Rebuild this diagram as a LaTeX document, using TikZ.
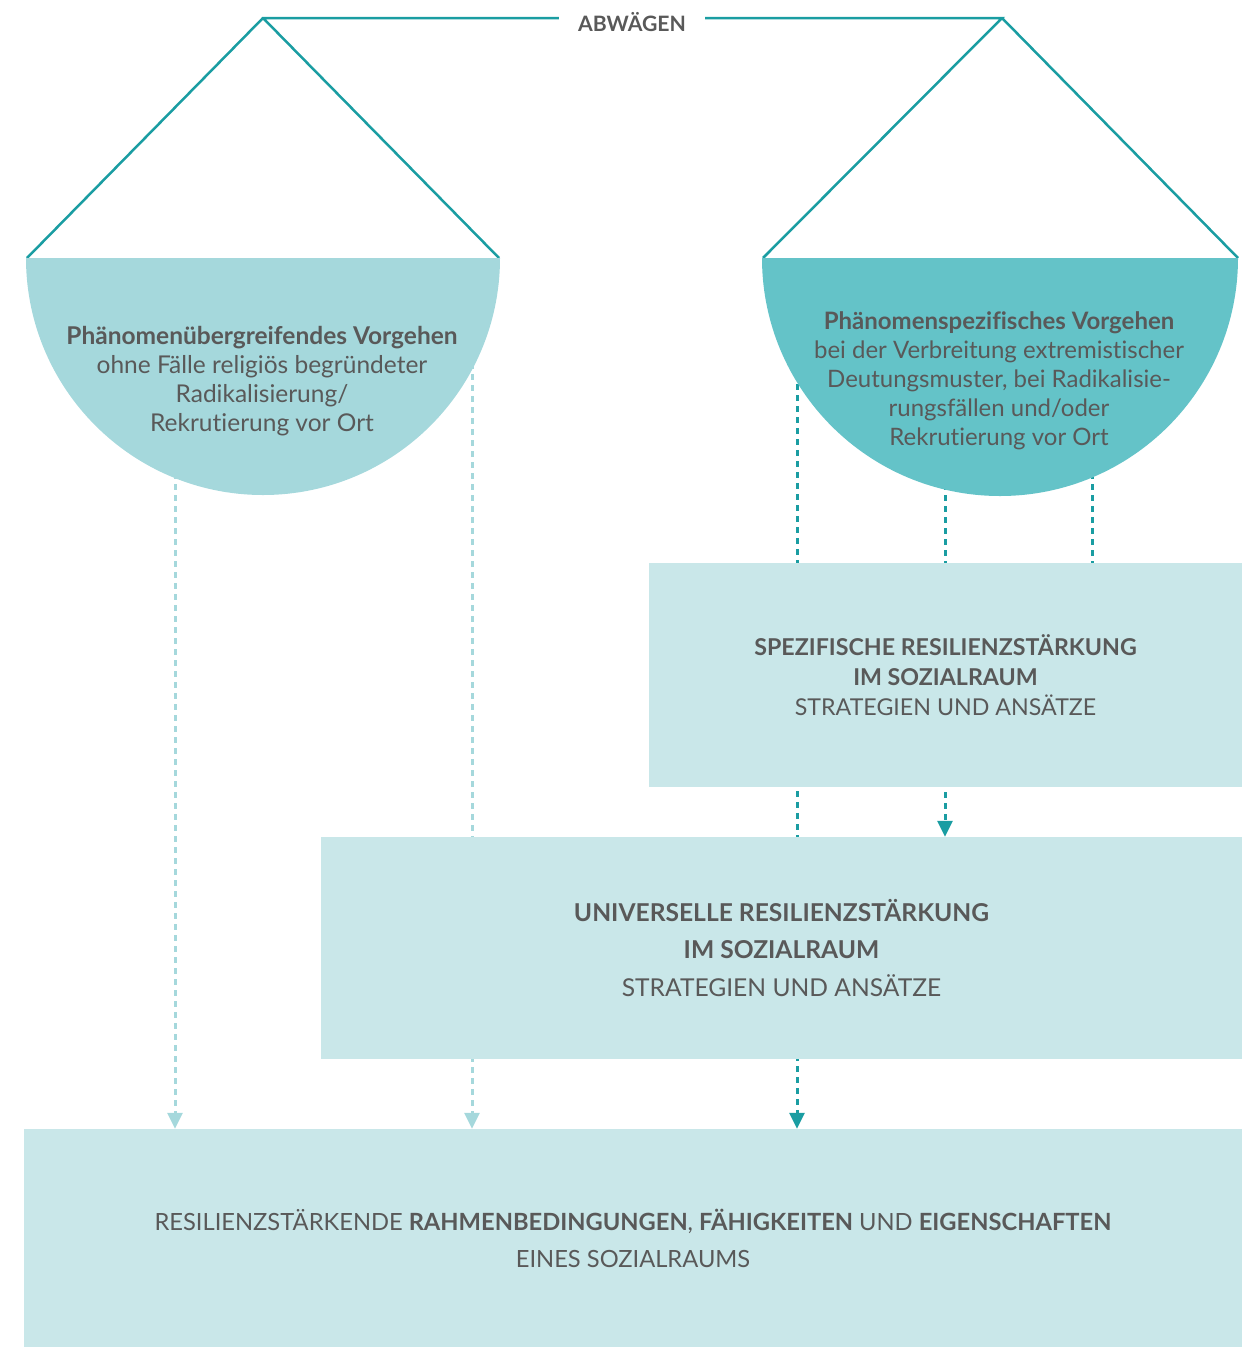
\documentclass[tikz,border=0pt]{standalone}
\usepackage{fontspec}
\setmainfont{Lato}[Ligatures=NoCommon]
\usetikzlibrary{arrows.meta,backgrounds,positioning}
\definecolor{waage}{HTML}{1A9DA2}
\definecolor{schaleA}{HTML}{A5D8DC}
\definecolor{schaleB}{HTML}{64C3C8}
\definecolor{feld}{HTML}{C9E7E9}
\definecolor{schrift}{HTML}{595959}

\begin{document}
\begin{tikzpicture}[x=1pt,y=1pt,
  feldbox/.style = {fill=feld, inner sep=0pt, align=center, text=schrift},
  schale/.style = {align=center, text=schrift, font=\fontsize{24.5}{29}\selectfont},
  hell/.style = {draw=schaleA, line width=3pt, dash pattern=on 6pt off 5pt},
  dunkel/.style = {draw=waage, line width=3pt, dash pattern=on 6pt off 5pt},
  spitze/.style = {-{Triangle[width=15pt,length=16pt]}}]

\useasboundingbox (0,0) rectangle (1252,-1347);

% waage
\node[font=\bfseries\fontsize{21.2}{26}\selectfont, text=schrift, inner sep=19pt] (abw) at (632,-22) {ABWÄGEN};
\coordinate (aufhA) at (263,-18);
\coordinate (aufhB) at (1002,-18);
\draw[waage, line width=2.5pt] (abw.west |- aufhA) -- (aufhA) -- (27,-258) (aufhA) -- (499,-258);
\draw[waage, line width=2.5pt] (abw.east |- aufhB) -- (aufhB) -- (763,-258) (aufhB) -- (1238,-258);

% schalen
\fill[schaleA] (26,-258) arc[start angle=180, end angle=360, radius=237pt] -- cycle;
\fill[schaleB] (762,-258) arc[start angle=180, end angle=360, radius=238pt] -- cycle;
\node[schale] (links) at (262,-381) {\textbf{Phänomenübergreifendes Vorgehen}\\ohne Fälle religiös begründeter\\Radikalisierung/\\Rekrutierung vor Ort};
\node[schale, font=\fontsize{24}{29}\selectfont] (rechts) at (999,-381) {\textbf{Phänomenspezifisches Vorgehen}\\bei der Verbreitung extremistischer\\Deutungsmuster, bei Radikalisie-\\rungsfällen und/oder\\Rekrutierung vor Ort};

% felder
\node[feldbox, minimum width=593pt, minimum height=224pt, font=\fontsize{23.2}{30}\selectfont] (spez) at (945.5,-675)
  {\textbf{SPEZIFISCHE RESILIENZSTÄRKUNG}\\\textbf{IM SOZIALRAUM}\\STRATEGIEN UND ANSÄTZE};
\node[feldbox, minimum width=921pt, minimum height=222pt, font=\fontsize{24.6}{37.5}\selectfont] (univ) at (781.5,-948)
  {\textbf{UNIVERSELLE RESILIENZSTÄRKUNG}\\\textbf{IM SOZIALRAUM}\\STRATEGIEN UND ANSÄTZE};
\node[feldbox, minimum width=1218pt, minimum height=218pt, font=\fontsize{23.7}{37}\selectfont] (basis) at (633,-1238)
  {RESILIENZSTÄRKENDE \textbf{RAHMENBEDINGUNGEN}, \textbf{FÄHIGKEITEN} UND \textbf{EIGENSCHAFTEN}\\EINES SOZIALRAUMS};

% pfeile
\begin{pgfonlayer}{background}
\coordinate (l1) at (175,-440);
\coordinate (l2) at (472,-330);
\coordinate (r1) at (797,-340);
\coordinate (r2) at (945,-440);
\coordinate (r3) at (1092,-440);
\draw[hell, spitze] (l1) -- (l1 |- basis.north);
\draw[hell, spitze] (l2) -- (l2 |- basis.north);
\draw[dunkel, spitze] (r1) -- (r1 |- basis.north);
\draw[dunkel, spitze] (r2) -- (r2 |- univ.north);
\draw[dunkel] (r3) -- (r3 |- spez.north);
\end{pgfonlayer}
\end{tikzpicture}
\end{document}
